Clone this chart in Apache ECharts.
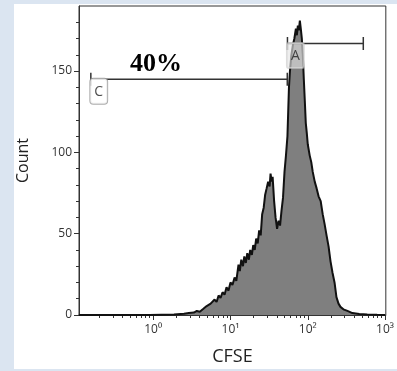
<!DOCTYPE html>
<html>
<head>
<meta charset="utf-8">
<script src="https://cdn.jsdelivr.net/npm/echarts@6/dist/echarts.min.js"></script>
<style>
html, body { margin: 0; padding: 0; background: #dbe5f1; }
#chart { width: 397px; height: 371px; }
</style>
</head>
<body>
<div id="chart"></div>
<script>
// histogram: CFSE channel value and event count
var cfse = [0.109, 0.889, 1.86, 2.50, 2.89, 3.36, 3.67, 4.01, 4.38, 4.64, 4.92, 5.22, 5.54, 5.88, 6.23, 6.61,
    7.02, 7.44, 7.90, 8.38, 8.89, 9.43, 10.0, 10.6, 11.3, 11.9, 12.7, 13.2, 13.8, 14.5, 15.1, 15.8, 16.5, 17.3,
    18.0, 18.9, 19.7, 20.6, 21.5, 22.5, 23.5, 24.6, 25.7, 26.9, 28.1, 29.4, 30.7, 32.1, 33.0, 34.1, 35.1, 36.7,
    38.3, 40.1, 41.9, 43.8, 45.7, 47.8, 50.0, 52.2, 54.6, 57.1, 58.8, 61.4, 64.2, 67.1, 70.2, 72.3, 74.4, 76.7,
    79.0, 81.3, 83.8, 86.3, 88.9, 91.5, 94.3, 97.1, 100, 106, 111, 116, 123, 130, 138, 147, 156, 165, 175, 186,
    197, 209, 222, 235, 250, 265, 289, 326, 378, 464, 588, 790, 1000];
var counts = [0, 0, 0.3, 0.8, 1.2, 1.5, 2.5, 2, 3.5, 3, 5.5, 4.5, 7, 6, 9.5, 8,
    12, 10.5, 14, 12.5, 17, 15, 20, 18.5, 23, 21, 31, 27, 34, 30, 36, 32, 38, 34,
    40, 37, 43, 40, 47, 44, 52, 49, 62, 66, 74, 78, 82, 79, 87, 82, 85, 70,
    60, 53, 58, 55, 64, 72, 88, 98, 110, 140, 150, 160, 166, 170, 176, 172, 178, 175,
    181, 176, 170, 160, 145, 132, 118, 112, 105, 98, 94, 88, 82, 78, 73, 70, 62, 56, 49, 42,
    33, 26, 20, 11, 7, 5, 3.5, 2.5, 1.2, 0.6, 0.3, 0.1, 0];

// gates (range on CFSE, drawn at a count level)
var gateNames = ['C', 'A'];
var gateFrom = [0.156, 54.6];
var gateTo = [54.3, 523];
var gateLevel = [145, 167];
var gatePercent = '40%';

var xMajorTicks = [1, 10, 100, 1000];
var xTickLabels = ['10⁰', '10¹', '10²', '10³'];
var yMajorTicks = [0, 50, 100, 150];
var yMinorTicks = [10, 20, 30, 40, 60, 70, 80, 90, 110, 120, 130, 140, 160, 170, 180];

function lg(v) { return Math.log10(v); }

// log minor ticks 2..9 of each decade
var xMinorTicks = [];
[0.1, 1, 10, 100].forEach(function(d) {
    for (var k = 2; k <= 9; k++) xMinorTicks.push(lg(k * d));
});

var axisColor = '#333';
var font = '"Open Sans", "Noto Sans", sans-serif';

var histData = cfse.map(function(v, i) { return [lg(v), counts[i]]; });

var gateSeries = gateNames.map(function(name, i) {
    var a = lg(gateFrom[i]), b = lg(gateTo[i]), y = gateLevel[i];
    return {
        type: 'line',
        symbol: 'none',
        silent: true,
        z: 4,
        lineStyle: { color: '#333', width: 1.5 },
        data: [[a, y - 4], [a, y + 4], [a, y], [b, y], [b, y + 4], [b, y - 4]]
    };
});

var labelStyles = {
    C: { backgroundColor: '#fff', borderColor: '#999', borderWidth: 1, borderRadius: 3 },
    A: { backgroundColor: 'rgba(228,228,228,0.78)', borderColor: 'rgba(200,200,200,0.8)', borderWidth: 1, borderRadius: 2 }
};

var gateLabelSeries = {
    type: 'scatter',
    symbolSize: 1,
    z: 6,
    itemStyle: { color: 'rgba(0,0,0,0)' },
    data: gateNames.map(function(name, i) {
        return {
            value: [lg(gateFrom[i]), gateLevel[i], name],
            label: Object.assign({
                show: true,
                position: [0, 0],
                formatter: name,
                fontFamily: font,
                fontSize: 14,
                color: '#222',
                padding: [6, 4, 5, 4]
            }, labelStyles[name])
        };
    })
};

var chart = echarts.init(document.getElementById('chart'));
chart.setOption({
    animation: false,
    backgroundColor: '#dbe5f1',
    graphic: [
        { type: 'rect', z: -10, shape: { x: 14, y: 4, width: 383, height: 365 }, style: { fill: '#fff' } },
        {
            type: 'text', z: 10, x: 156, y: 64,
            style: { text: gatePercent, font: 'bold 26px "Liberation Serif", serif', fill: '#000', align: 'center', verticalAlign: 'middle' }
        }
    ],
    grid: {
        left: 79, right: 8, top: 6, bottom: 55,
        show: true, backgroundColor: '#fff', borderColor: axisColor, borderWidth: 1
    },
    xAxis: [{
        type: 'value', min: -0.96, max: 3.01,
        name: 'CFSE', nameLocation: 'middle', nameGap: 33,
        nameTextStyle: { fontFamily: font, fontSize: 18, color: '#222' },
        axisLine: { show: true, onZero: false, lineStyle: { color: axisColor, width: 1 } },
        axisTick: { show: true, customValues: xMajorTicks.map(lg), length: 5, lineStyle: { color: axisColor } },
        axisLabel: {
            customValues: xMajorTicks.map(lg), margin: 9, fontFamily: font, fontSize: 12, color: '#333',
            formatter: function(v) { return xTickLabels[Math.round(v)]; }
        },
        splitLine: { show: false }
    }, {
        type: 'value', min: -0.96, max: 3.01, position: 'bottom',
        axisLine: { show: false, onZero: false },
        axisTick: { show: true, customValues: xMinorTicks, length: 3, lineStyle: { color: axisColor } },
        axisLabel: { show: false },
        splitLine: { show: false }
    }],
    yAxis: [{
        type: 'value', min: 0, max: 190,
        name: 'Count', nameLocation: 'middle', nameGap: 48,
        nameTextStyle: { fontFamily: font, fontSize: 16, color: '#222' },
        axisLine: { show: true, onZero: false, lineStyle: { color: axisColor, width: 1 } },
        axisTick: { show: true, customValues: yMajorTicks, length: 5, lineStyle: { color: axisColor } },
        axisLabel: { customValues: yMajorTicks, margin: 7, fontFamily: font, fontSize: 12, color: '#333' },
        splitLine: { show: false }
    }, {
        type: 'value', min: 0, max: 190, position: 'left',
        axisLine: { show: false, onZero: false },
        axisTick: { show: true, customValues: yMinorTicks, length: 3, lineStyle: { color: axisColor } },
        axisLabel: { show: false },
        splitLine: { show: false }
    }],
    series: [{
        type: 'line',
        symbol: 'none',
        z: 2,
        data: histData,
        lineStyle: { color: '#111', width: 2 },
        areaStyle: { color: '#7f7f7f', opacity: 1 }
    }].concat(gateSeries, [gateLabelSeries])
});
</script>
</body>
</html>
